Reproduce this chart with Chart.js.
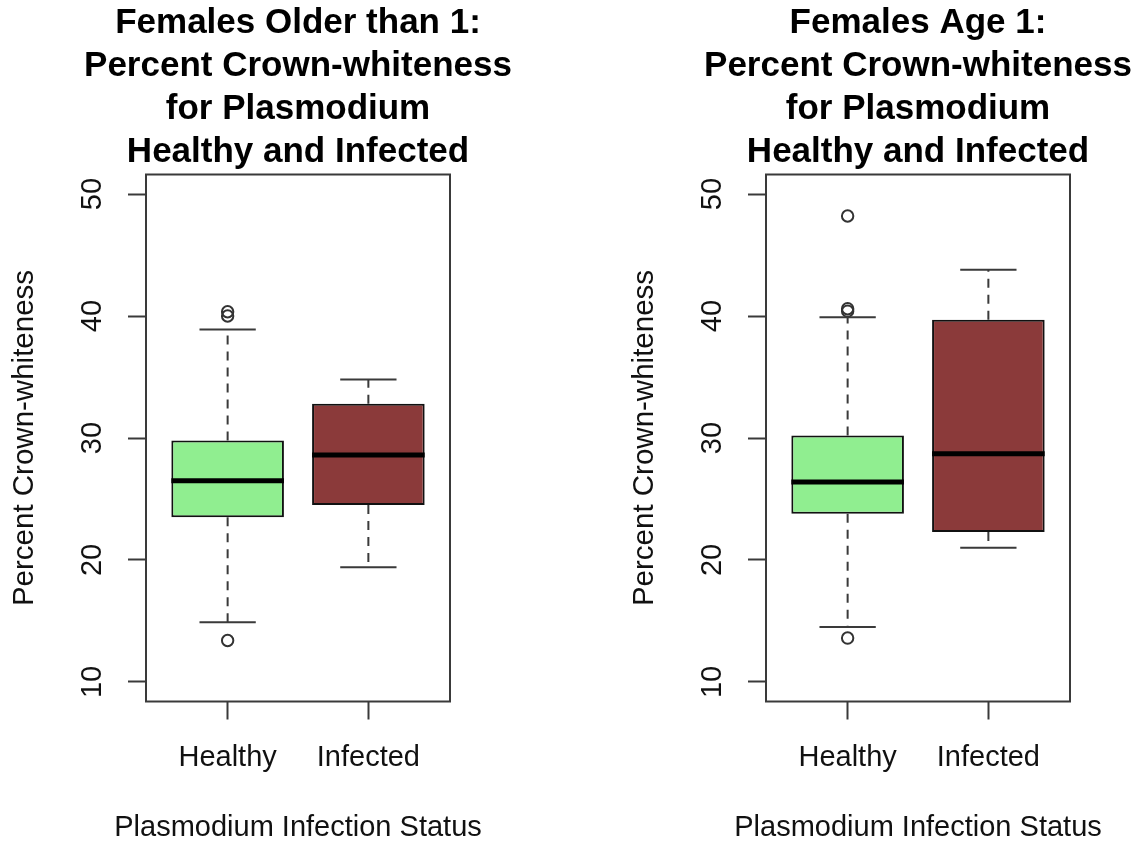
<!DOCTYPE html>
<html>
<head>
<meta charset="utf-8">
<script src="https://cdn.jsdelivr.net/npm/chart.js@4.4.1/dist/chart.umd.min.js"></script>
<style>
  html, body { margin: 0; padding: 0; background: #fff; width: 1135px; height: 841px; overflow: hidden; }
  .panel { position: absolute; top: 0; width: 596px; height: 841px; }
  #leftPanel { left: 0; }
  #rightPanel { left: 620px; }
</style>
</head>
<body>
<div class="panel" id="leftPanel"><canvas id="olderChart" width="596" height="841"></canvas></div>
<div class="panel" id="rightPanel"><canvas id="ageOneChart" width="596" height="841"></canvas></div>
<script>
// Groups and y-axis ticks shared by both panels
const categories = ['Healthy', 'Infected'];
const yTickValues = [10, 20, 30, 40, 50];
const yRange = [8.4, 51.6];
const xLabel = 'Plasmodium Infection Status';
const yLabel = 'Percent Crown-whiteness';

// Females older than 1: five-number summaries per group
const olderTitle = ['Females Older than 1:', 'Percent Crown-whiteness', 'for Plasmodium', 'Healthy and Infected'];
const olderLowerWhisker = [14.9, 19.4];
const olderQ1 = [23.5, 24.5];
const olderMedian = [26.5, 28.6];
const olderQ3 = [29.8, 32.8];
const olderUpperWhisker = [38.9, 34.8];
const olderOutliersHealthy = [13.4, 40.0, 40.35];
const olderOutliersInfected = [];

// Females age 1: five-number summaries per group
const ageOneTitle = ['Females Age 1:', 'Percent Crown-whiteness', 'for Plasmodium', 'Healthy and Infected'];
const ageOneLowerWhisker = [14.5, 21.0];
const ageOneQ1 = [23.8, 22.3];
const ageOneMedian = [26.4, 28.7];
const ageOneQ3 = [30.2, 39.7];
const ageOneUpperWhisker = [39.9, 43.8];
const ageOneOutliersHealthy = [13.6, 40.4, 40.6, 48.2];
const ageOneOutliersInfected = [];

const boxColors = ['#90EE90', '#8B3A3A'];
const FONT = "'Liberation Sans', Arial, Helvetica, sans-serif";
const INK = '#111';
const LINE = '#3a3a3a';

// Whiskers, staples, medians and the plot frame, placed through the chart scales
function boxPlotPlugin(stats) {
  return {
    id: 'boxPlotParts',
    afterDatasetsDraw(chart) {
      const { ctx } = chart;
      const y = chart.scales.y;
      const bars = chart.getDatasetMeta(0).data;
      ctx.save();
      bars.forEach((bar, i) => {
        const cx = bar.x;
        const half = bar.width / 2;
        const staple = bar.width / 4;
        const pLow = y.getPixelForValue(stats.low[i]);
        const pQ1 = y.getPixelForValue(stats.q1[i]);
        const pQ3 = y.getPixelForValue(stats.q3[i]);
        const pHigh = y.getPixelForValue(stats.high[i]);
        const pMed = y.getPixelForValue(stats.median[i]);

        // dashed whiskers
        ctx.strokeStyle = LINE;
        ctx.lineWidth = 2;
        ctx.setLineDash([9, 7]);
        ctx.beginPath();
        ctx.moveTo(cx, pQ3); ctx.lineTo(cx, pHigh);
        ctx.moveTo(cx, pQ1); ctx.lineTo(cx, pLow);
        ctx.stroke();

        // staples
        ctx.setLineDash([]);
        ctx.beginPath();
        ctx.moveTo(cx - staple, pHigh); ctx.lineTo(cx + staple, pHigh);
        ctx.moveTo(cx - staple, pLow); ctx.lineTo(cx + staple, pLow);
        ctx.stroke();

        // median
        ctx.strokeStyle = '#000';
        ctx.lineWidth = 5;
        ctx.beginPath();
        ctx.moveTo(cx - half, pMed); ctx.lineTo(cx + half, pMed);
        ctx.stroke();
      });
      ctx.restore();
    },
    afterDraw(chart) {
      const { ctx, chartArea: a } = chart;
      ctx.save();
      ctx.strokeStyle = LINE;
      ctx.lineWidth = 2;
      ctx.strokeRect(a.left, a.top, a.right - a.left, a.bottom - a.top);
      ctx.restore();
    }
  };
}

function makePanel(canvasId, title, stats, outliersHealthy, outliersInfected) {
  const boxes = categories.map((c, i) => ({ x: i + 1, y: [stats.q1[i], stats.q3[i]] }));
  const outliers = [
    ...outliersHealthy.map(v => ({ x: 1, y: v })),
    ...outliersInfected.map(v => ({ x: 2, y: v }))
  ];
  return new Chart(document.getElementById(canvasId), {
    type: 'bar',
    data: {
      datasets: [
        {
          type: 'bar',
          data: boxes,
          backgroundColor: boxColors,
          borderColor: '#111',
          borderWidth: 2,
          borderSkipped: false,
          barPercentage: 0.8,
          categoryPercentage: 1.0
        },
        {
          type: 'scatter',
          data: outliers,
          showLine: false,
          pointStyle: 'circle',
          pointRadius: 5.7,
          pointBorderWidth: 2,
          pointBorderColor: '#333',
          pointBackgroundColor: 'rgba(255,255,255,0)'
        }
      ]
    },
    options: {
      responsive: false,
      devicePixelRatio: 1,
      animation: false,
      events: [],
      layout: { padding: 0 },
      plugins: {
        legend: { display: false },
        tooltip: { enabled: false },
        title: {
          display: true,
          text: title,
          color: '#000',
          font: { family: FONT, size: 35, weight: 'bold', lineHeight: 43.0 / 35 },
          padding: { top: 2.2, bottom: 0.3 }
        },
        subtitle: {
          display: true,
          position: 'bottom',
          text: xLabel,
          color: INK,
          font: { family: FONT, size: 29, lineHeight: 0.9 },
          padding: { top: 0, bottom: 0 }
        }
      },
      scales: {
        x: {
          type: 'linear',
          min: 0.42,
          max: 2.58,
          offset: false,
          afterBuildTicks: s => { s.ticks = categories.map((c, i) => ({ value: i + 1 })); },
          afterFit: s => { s.height = 113.4; },
          border: { display: false },
          grid: { offset: false, drawOnChartArea: false, drawTicks: true, tickLength: 18, tickColor: LINE, tickWidth: 2 },
          ticks: {
            autoSkip: false, maxRotation: 0, minRotation: 0, padding: 21,
            color: INK, font: { family: FONT, size: 29 },
            callback: (v, i) => categories[i]
          }
        },
        y: {
          type: 'linear',
          min: yRange[0],
          max: yRange[1],
          afterBuildTicks: s => { s.ticks = yTickValues.map(v => ({ value: v })); },
          afterFit: s => { s.width = 146; },
          border: { display: false },
          grid: { drawOnChartArea: false, drawTicks: true, tickLength: 18, tickColor: LINE, tickWidth: 2 },
          ticks: {
            minRotation: 90, maxRotation: 90, crossAlign: 'center', padding: 19,
            color: INK, font: { family: FONT, size: 29 }
          },
          title: {
            display: true, text: yLabel, color: INK,
            font: { family: FONT, size: 29.5, lineHeight: 1.2 },
            padding: { top: 7.3, bottom: 0 }
          }
        },
        // empty right margin so the title stays centred over the plot
        margin: {
          type: 'linear',
          position: 'right',
          display: true,
          afterFit: s => { s.width = 146; },
          border: { display: false },
          grid: { display: false },
          ticks: { display: false }
        }
      }
    },
    plugins: [boxPlotPlugin(stats)]
  });
}

makePanel('olderChart', olderTitle,
  { low: olderLowerWhisker, q1: olderQ1, median: olderMedian, q3: olderQ3, high: olderUpperWhisker },
  olderOutliersHealthy, olderOutliersInfected);

makePanel('ageOneChart', ageOneTitle,
  { low: ageOneLowerWhisker, q1: ageOneQ1, median: ageOneMedian, q3: ageOneQ3, high: ageOneUpperWhisker },
  ageOneOutliersHealthy, ageOneOutliersInfected);
</script>
</body>
</html>
